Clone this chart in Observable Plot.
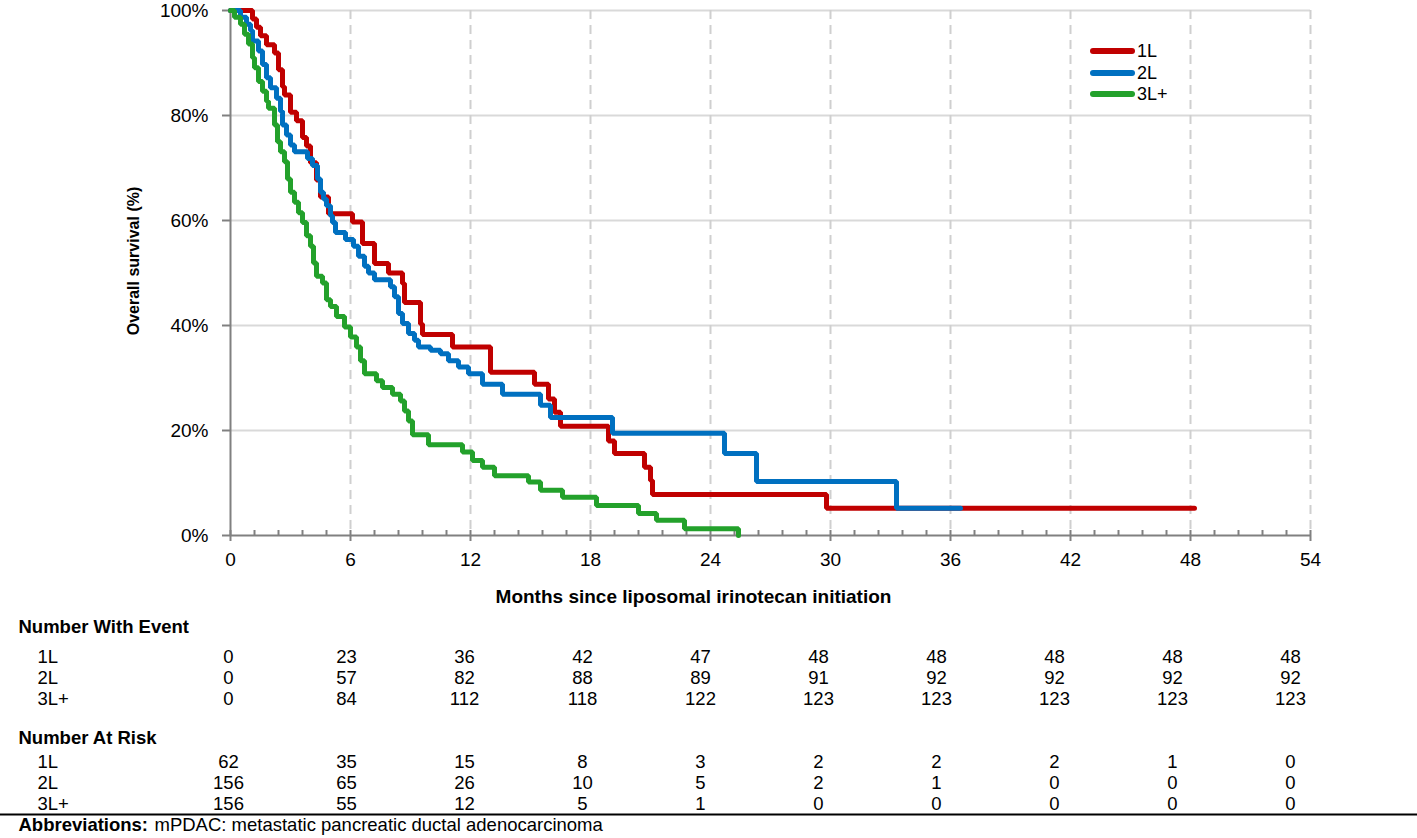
<!DOCTYPE html>
<html><head><meta charset="utf-8">
<script src="https://cdn.jsdelivr.net/npm/d3@7"></script>
<script src="https://cdn.jsdelivr.net/npm/@observablehq/plot@0.6"></script>
<style>
body{margin:0;background:#fff;}
#wrap{position:relative;width:1417px;height:838px;overflow:hidden;font-family:"Liberation Sans",Arial,sans-serif;background:#fff;}
#wrap svg{display:block;}
#legend{position:absolute;left:1090px;top:0;width:150px;height:110px;}
.item{position:absolute;left:0;height:20px;width:140px;}
.sw{position:absolute;left:0;top:7px;width:45px;height:6px;border-radius:3px;}
.lab{position:absolute;left:47px;top:0;font-size:18px;line-height:20px;color:#000;}
</style></head>
<body><div id="wrap"><div id="legend"></div></div>
<script>
// ---- data ----
const groups = ["1L", "2L", "3L+"];
const colors = ["#C00000", "#0070C0", "#23A12B"];

const months1L = [0, 1.1, 1.3, 1.5, 1.8, 2.2, 2.4, 2.6, 2.7, 3.0, 3.3, 3.6, 3.8, 4.0, 4.3, 4.5, 4.9, 6.1, 6.6, 7.2, 7.9, 8.6, 8.7, 9.5, 9.6, 11.1, 13.0, 15.2, 15.9, 16.2, 16.5, 18.9, 19.2, 20.7, 21.0, 21.1, 29.8, 48.2];
const surv1L   = [100, 98.4, 96.8, 95.2, 93.5, 91.9, 88.7, 85.5, 83.9, 80.6, 79.0, 75.8, 74.2, 71.0, 67.7, 64.5, 61.3, 59.7, 55.6, 51.8, 50.0, 48.0, 44.4, 40.3, 38.3, 35.9, 31.1, 28.8, 26.0, 23.5, 20.8, 18.0, 15.6, 13.0, 10.5, 7.8, 5.2, 5.2];

const months2L = [0, 0.5, 0.8, 1.0, 1.1, 1.4, 1.6, 1.8, 2.0, 2.3, 2.5, 2.6, 2.8, 3.0, 3.2, 3.85, 4.1, 4.35, 4.5, 4.65, 4.8, 5.0, 5.1, 5.25, 5.75, 6.15, 6.4, 6.7, 6.9, 7.2, 8.0, 8.2, 8.4, 8.6, 8.9, 9.2, 9.4, 10.0, 10.5, 10.9, 11.4, 11.9, 12.6, 13.6, 15.5, 16.0, 19.1, 24.7, 26.3, 33.3, 36.5];
const surv2L   = [100, 98.7, 97.4, 96.2, 94.2, 92.3, 89.7, 87.2, 85.3, 83.3, 80.8, 78.2, 76.3, 74.4, 73.1, 71.8, 70.5, 67.9, 65.4, 64.1, 62.8, 60.9, 59.6, 57.7, 56.4, 55.1, 53.2, 51.3, 50.0, 48.7, 47.4, 45.5, 42.3, 40.4, 38.5, 37.2, 35.9, 35.3, 34.6, 33.3, 32.1, 30.8, 28.8, 26.9, 24.8, 22.5, 19.5, 15.6, 10.3, 5.2, 5.2];

const months3L = [0, 0.2, 0.5, 0.7, 0.9, 1.1, 1.2, 1.4, 1.6, 1.8, 1.9, 2.2, 2.35, 2.5, 2.7, 2.85, 3.0, 3.2, 3.4, 3.6, 3.8, 4.0, 4.15, 4.3, 4.6, 4.8, 5.0, 5.3, 5.7, 6.0, 6.3, 6.5, 6.7, 7.3, 7.6, 8.1, 8.5, 8.7, 8.9, 9.1, 9.9, 11.6, 12.1, 12.6, 13.2, 14.9, 15.5, 16.6, 18.3, 20.4, 21.3, 22.7, 25.4];
const surv3L   = [100, 98.7, 97.4, 95.5, 93.6, 91.0, 89.1, 86.5, 84.6, 82.7, 81.4, 78.2, 75.0, 73.1, 71.2, 67.9, 65.4, 63.5, 61.5, 59.6, 57.1, 55.1, 51.9, 49.4, 48.1, 44.9, 43.6, 41.7, 39.7, 37.8, 35.9, 33.3, 30.8, 29.5, 28.2, 26.9, 25.6, 23.7, 21.8, 19.2, 17.3, 15.9, 14.3, 13.0, 11.4, 10.2, 8.6, 7.3, 5.7, 4.2, 2.9, 1.3, 0];

const xTicks = [0, 6, 12, 18, 24, 30, 36, 42, 48, 54];
const yTicks = [0, 20, 40, 60, 80, 100];
const tableTimes = [0, 6, 12, 18, 24, 30, 36, 42, 48, 54];

const events1L = [0, 23, 36, 42, 47, 48, 48, 48, 48, 48];
const events2L = [0, 57, 82, 88, 89, 91, 92, 92, 92, 92];
const events3L = [0, 84, 112, 118, 122, 123, 123, 123, 123, 123];
const risk1L = [62, 35, 15, 8, 3, 2, 2, 2, 1, 0];
const risk2L = [156, 65, 26, 10, 5, 2, 1, 0, 0, 0];
const risk3L = [156, 55, 12, 5, 1, 0, 0, 0, 0, 0];

const xTitle = "Months since liposomal irinotecan initiation";
const yTitle = "Overall survival (%)";
const eventsTitle = "Number With Event";
const riskTitle = "Number At Risk";
const abbrLabel = "Abbreviations:";
const abbrText = "mPDAC: metastatic pancreatic ductal adenocarcinoma";

// ---- build ----
const F = '"Liberation Sans", Arial, Helvetica, sans-serif';
const series = [
  {name: "1L", months: months1L, surv: surv1L},
  {name: "2L", months: months2L, surv: surv2L},
  {name: "3L+", months: months3L, surv: surv3L}
];
const curves = series.flatMap(s => s.months.map((m, i) => ({line: s.name, month: m, surv: s.surv[i]})));
const xMinor = d3.range(0, 54.001, 1.2).map(d => +d.toFixed(1)).filter(d => !xTicks.includes(d));
const grey = "#808080";

const chart = Plot.plot({
  width: 1417, height: 615,
  marginLeft: 230, marginRight: 107, marginTop: 10, marginBottom: 80,
  style: {fontFamily: F, fontSize: "19px", color: "#000", background: "#fff", overflow: "visible"},
  x: {domain: [0, 54], label: null},
  y: {domain: [0, 100], label: null},
  color: {domain: groups, range: colors},
  marks: [
    Plot.gridY(yTicks.filter(d => d > 0), {stroke: "#d9d9d9", strokeOpacity: 1, strokeWidth: 2}),
    Plot.gridX(xTicks.filter(d => d > 0), {stroke: "#cfcfcf", strokeOpacity: 1, strokeWidth: 2, strokeDasharray: "9,6"}),
    Plot.ruleX([0], {stroke: grey, strokeWidth: 2}),
    Plot.ruleY([0], {stroke: grey, strokeWidth: 2}),
    Plot.ruleX(xMinor, {x: d => d, y1: 0, y2: 0, insetTop: -5, stroke: grey, strokeWidth: 2}),
    Plot.ruleX(xTicks, {x: d => d, y1: 0, y2: 0, insetTop: -5, insetBottom: -6, stroke: grey, strokeWidth: 2}),
    Plot.ruleY(yTicks, {y: d => d, x1: 0, x2: 0, insetLeft: -8, stroke: grey, strokeWidth: 2}),
    Plot.axisX(xTicks, {tickSize: 0, tickPadding: 17, fontSize: 19, label: null}),
    Plot.axisY(yTicks, {tickSize: 0, tickPadding: 22, fontSize: 19, tickFormat: d => d + "%", label: null}),
    Plot.line(curves, {x: "month", y: "surv", z: "line", stroke: "line", curve: "step-after",
      strokeWidth: 5, strokeLinejoin: "miter", strokeLinecap: "round"}),
    Plot.text([xTitle], {text: d => d, frameAnchor: "bottom", textAnchor: "middle", dx: -77, dy: 67, fontWeight: "bold", fontSize: 19}),
    Plot.text([yTitle], {text: d => d, frameAnchor: "left", textAnchor: "middle", rotate: -90, dx: -97, dy: -12, fontWeight: "bold", fontSize: 16})
  ]
});

const rowKeys = ["E1L", "E2L", "E3L+", "gap", "H2", "R1L", "R2L", "R3L+", "F"];
const cells = [];
[events1L, events2L, events3L].forEach((arr, g) => arr.forEach((v, i) => cells.push({t: tableTimes[i], row: "E" + groups[g], v})));
[risk1L, risk2L, risk3L].forEach((arr, g) => arr.forEach((v, i) => cells.push({t: tableTimes[i], row: "R" + groups[g], v})));
const rowLabels = groups.flatMap(g => [{row: "E" + g, label: g}, {row: "R" + g, label: g}]);

const table = Plot.plot({
  width: 1417, height: 223,
  marginLeft: 0, marginRight: 0, marginTop: 0, marginBottom: 0,
  style: {fontFamily: F, fontSize: "18.5px", color: "#000", background: "#fff", overflow: "visible"},
  x: {domain: [0, 54], range: [228, 1290], axis: null},
  y: {type: "point", domain: rowKeys, range: [40, 211], padding: 0, axis: null},
  marks: [
    Plot.text(cells, {x: "t", y: "row", text: d => String(d.v), fontSize: 18.5}),
    Plot.text(rowLabels, {y: "row", text: "label", frameAnchor: "left", dx: 37, textAnchor: "start", fontSize: 18.5}),
    Plot.text([eventsTitle], {y: () => "E1L", text: d => d, frameAnchor: "left", dx: 18, dy: -30, textAnchor: "start", fontWeight: "bold", fontSize: 18.5}),
    Plot.text([riskTitle], {y: () => "H2", text: d => d, frameAnchor: "left", dx: 18, dy: -3, textAnchor: "start", fontWeight: "bold", fontSize: 18.5}),
    Plot.ruleY(["F"], {y: d => d, dy: -11, stroke: "#000", strokeWidth: 2}),
    Plot.text([abbrLabel], {y: () => "F", text: d => d, frameAnchor: "left", dx: 18, textAnchor: "start", fontWeight: "bold", fontSize: 18.5}),
    Plot.text([abbrText], {y: () => "F", text: d => d, frameAnchor: "left", dx: 154, textAnchor: "start", fontSize: 18.5})
  ]
});

const wrap = document.getElementById("wrap");
wrap.insertBefore(table, wrap.firstChild);
wrap.insertBefore(chart, table);

const legend = document.getElementById("legend");
const legendTops = [41, 62.5, 84];
groups.forEach((g, i) => {
  const item = document.createElement("div");
  item.className = "item";
  item.style.top = legendTops[i] + "px";
  const sw = document.createElement("div");
  sw.className = "sw";
  sw.style.background = colors[i];
  const lab = document.createElement("div");
  lab.className = "lab";
  lab.textContent = g;
  item.appendChild(sw); item.appendChild(lab);
  legend.appendChild(item);
});
</script>
</body></html>
